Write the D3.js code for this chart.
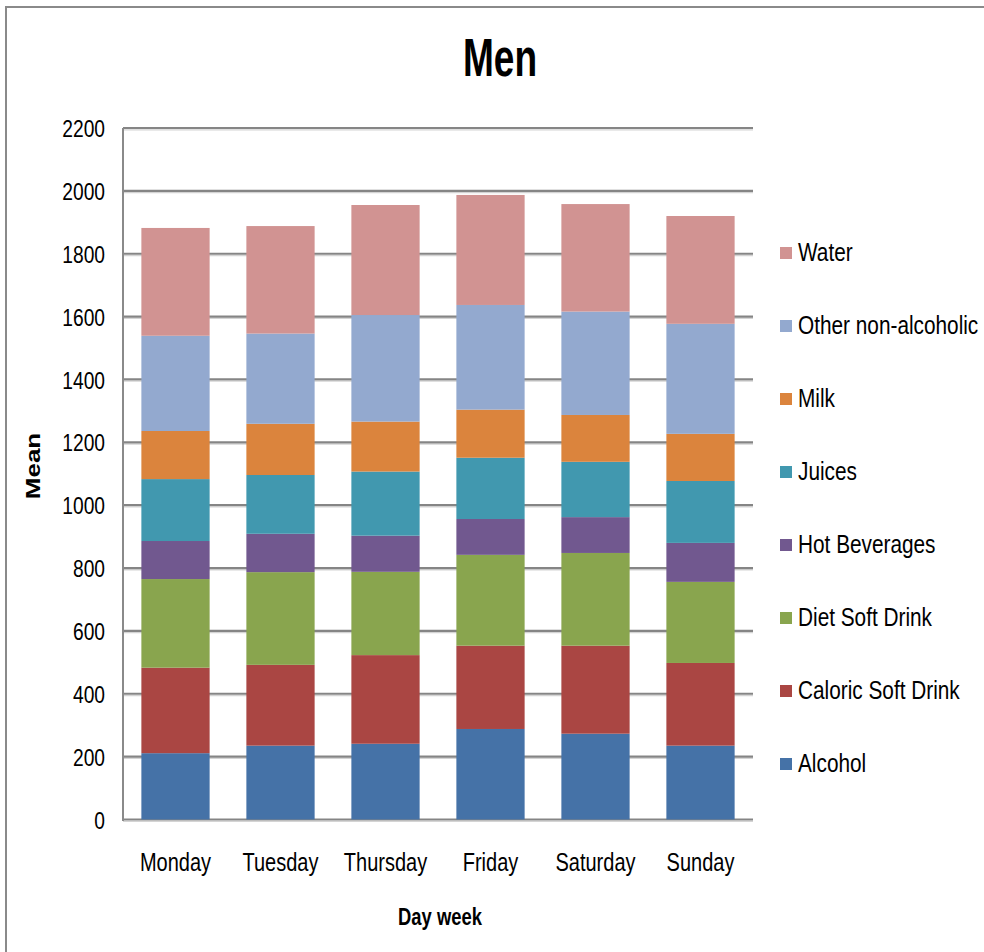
<!DOCTYPE html>
<html>
<head>
<meta charset="utf-8">
<script src="https://cdn.jsdelivr.net/npm/d3@7/dist/d3.min.js"></script>
<style>
  html, body { margin: 0; padding: 0; background: #fff; }
  svg { display: block; }
  text { font-family: "Liberation Sans", Arial, Helvetica, sans-serif; fill: #000; }
</style>
</head>
<body>
<svg id="chart" width="984" height="952"></svg>
<script>
// Mean daily intake per beverage group, men, by day of the week
const days = ["Monday", "Tuesday", "Thursday", "Friday", "Saturday", "Sunday"];
const alcohol           = [211, 235, 241, 288, 273, 235];
const caloricSoftDrink  = [272, 257, 282, 265, 280, 263];
const dietSoftDrink     = [282, 295, 265, 289, 295, 258];
const hotBeverages      = [121, 122, 115, 114, 114, 124];
const juices            = [197, 187, 204, 195, 176, 197];
const milk              = [153, 163, 159, 153, 149, 150];
const otherNonAlcoholic = [303, 287, 339, 333, 329, 350];
const water             = [343, 342, 350, 350, 342, 343];

const seriesNames = ["Alcohol", "Caloric Soft Drink", "Diet Soft Drink", "Hot Beverages",
                     "Juices", "Milk", "Other non-alcoholic", "Water"];
const seriesValues = [alcohol, caloricSoftDrink, dietSoftDrink, hotBeverages,
                      juices, milk, otherNonAlcoholic, water];
const seriesColors = ["#4572A7", "#AA4643", "#89A54E", "#71588F",
                      "#4198AF", "#DB843D", "#93A9CF", "#D19392"];
const yTicks = [0, 200, 400, 600, 800, 1000, 1200, 1400, 1600, 1800, 2000, 2200];

// Build a row per day for d3.stack
const rows = days.map((d, i) => {
  const r = { day: d };
  seriesNames.forEach((s, j) => { r[s] = seriesValues[j][i]; });
  return r;
});
const stacked = d3.stack().keys(seriesNames)(rows);

const svg = d3.select("#chart");
const SQ = 0.8; // horizontal condensing applied to the text glyphs

function label(x, y, txt, opts = {}) {
  const sq = opts.sq || SQ;
  const tf = opts.rotate
    ? `translate(${x},${y}) rotate(${opts.rotate}) scale(1,${sq})`
    : `translate(${x},${y}) scale(${sq},1)`;
  return svg.append("text")
    .attr("transform", tf)
    .attr("text-anchor", opts.anchor || "middle")
    .attr("font-size", opts.size || 25)
    .attr("font-weight", opts.bold ? "bold" : "normal")
    .text(txt);
}

// Outer frame of the chart area
svg.append("rect")
  .attr("x", 6).attr("y", 7).attr("width", 1100).attr("height", 1100)
  .attr("fill", "#fff").attr("stroke", "#8a8a8a").attr("stroke-width", 2);

const x = d3.scaleBand().domain(days).range([123, 753])
  .paddingInner(0.35).paddingOuter(0.175);
const y = d3.scaleLinear().domain([0, 2200]).range([819.5, 128]);

// Horizontal gridlines (with a faint lighter edge beneath)
const grid = svg.append("g");
grid.selectAll("line.shadow").data(yTicks).join("line")
  .attr("class", "shadow")
  .attr("x1", 123).attr("x2", 753)
  .attr("y1", d => y(d) + 1.8).attr("y2", d => y(d) + 1.8)
  .attr("stroke", "#d4d4d4").attr("stroke-width", 1.2);
grid.selectAll("line.main").data(yTicks).join("line")
  .attr("class", "main")
  .attr("x1", 123).attr("x2", 753)
  .attr("y1", d => y(d)).attr("y2", d => y(d))
  .attr("stroke", "#858585").attr("stroke-width", 2.2);

// Stacked bars
svg.append("g").selectAll("g").data(stacked).join("g")
  .attr("fill", (d, i) => seriesColors[i])
  .selectAll("rect").data(d => d).join("rect")
  .attr("x", d => x(d.data.day))
  .attr("width", x.bandwidth())
  .attr("y", d => y(d[1]))
  .attr("height", d => y(d[0]) - y(d[1]));

// Y axis line
svg.append("line")
  .attr("x1", 123).attr("x2", 123).attr("y1", 128).attr("y2", 821)
  .attr("stroke", "#8a8a8a").attr("stroke-width", 2);

// Y tick labels from the axis generator
const yAxis = d3.axisLeft(y).tickValues(yTicks).tickFormat(d3.format("d"))
  .tickSize(0).tickPadding(0);
const yg = svg.append("g").attr("transform", "translate(105,0)").call(yAxis);
yg.select(".domain").remove();
yg.selectAll(".tick text")
  .attr("x", 0).attr("dy", "0.36em")
  .attr("transform", `scale(${SQ},1)`)
  .attr("font-size", 24)
  .attr("font-family", "Liberation Sans, Arial, sans-serif")
  .attr("fill", "#000");

// X tick labels from the axis generator
const xAxis = d3.axisBottom(x).tickSize(0).tickPadding(0);
const xg = svg.append("g").attr("transform", "translate(0,853)").call(xAxis);
xg.select(".domain").remove();
xg.selectAll(".tick text")
  .attr("y", 0).attr("dy", "0.71em")
  .attr("transform", `scale(${SQ},1)`)
  .attr("font-size", 25)
  .attr("font-family", "Liberation Sans, Arial, sans-serif")
  .attr("fill", "#000");

// Titles
label(500, 76, "Men", { size: 53, bold: true, sq: 0.7 });
label(440, 925, "Day week", { size: 23, bold: true });
label(40, 466, "Mean", { size: 26, bold: true, rotate: -90 });

// Legend (top entry is the top of the stack)
const legendOrder = seriesNames.map((n, i) => i).reverse();
legendOrder.forEach((si, k) => {
  const cy = 252 + k * 73;
  svg.append("rect")
    .attr("x", 780).attr("y", cy - 5).attr("width", 12).attr("height", 12)
    .attr("fill", seriesColors[si]);
  label(798, cy + 9, seriesNames[si], { size: 26, anchor: "start" });
});
</script>
</body>
</html>
